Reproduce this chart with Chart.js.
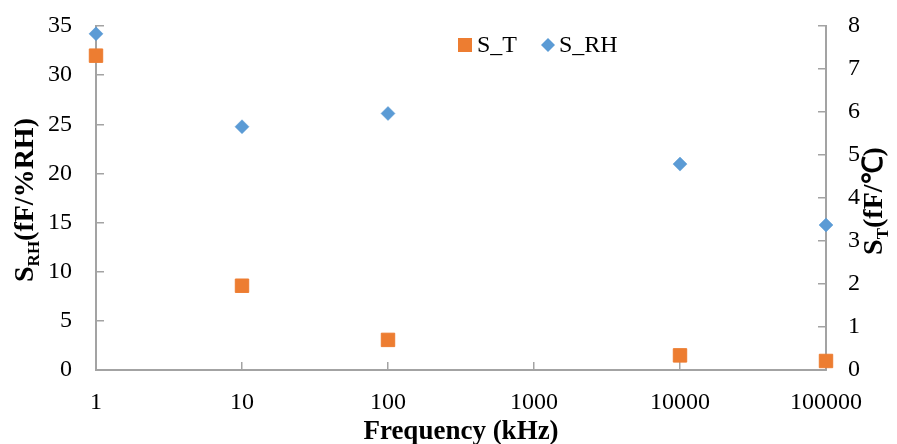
<!DOCTYPE html>
<html>
<head>
<meta charset="utf-8">
<script src="https://cdn.jsdelivr.net/npm/chart.js@4"></script>
<style>
  html, body { margin: 0; padding: 0; background: #fff; }
  #wrap { width: 897px; height: 444px; }
</style>
</head>
<body>
<div id="wrap"><canvas id="chart"></canvas></div>
<script>
// values
const frequencies = [1, 10, 100, 10000, 100000];
const sRH = [34.2, 24.75, 26.1, 20.95, 14.75];
const sT = [7.31, 1.96, 0.70, 0.34, 0.21];
const xTicks = [1, 10, 100, 1000, 10000, 100000];
const seriesNames = ["S_T", "S_RH"];

const serif = "'Liberation Serif', 'Times New Roman', serif";
const axisGray = "#a3a3a3";
const orange = "#ED7D31";
const blue = "#5B9BD5";

const toPoints = (ys) => frequencies.map((f, i) => ({ x: f, y: ys[i] }));

// draws "S" + subscript + rest, rotated -90deg around (x, y) centre
function drawRotTitle(ctx, x, y, main, sub, rest, size) {
  const bigFont = `bold ${size}px ${serif}`;
  const smallFont = `bold ${Math.round(size * 0.62)}px ${serif}`;
  ctx.font = bigFont;
  const w1 = ctx.measureText(main).width;
  const w3 = ctx.measureText(rest).width;
  ctx.font = smallFont;
  const w2 = ctx.measureText(sub).width;
  const total = w1 + w2 + w3;
  ctx.save();
  ctx.translate(x, y);
  ctx.rotate(-Math.PI / 2);
  ctx.textAlign = "left";
  ctx.textBaseline = "alphabetic";
  let px = -total / 2;
  ctx.font = bigFont;
  ctx.fillText(main, px, 0);
  px += w1;
  ctx.font = smallFont;
  ctx.fillText(sub, px, size * 0.2);
  px += w2;
  ctx.font = bigFont;
  ctx.fillText(rest, px, 0);
  ctx.restore();
}

const titlesPlugin = {
  id: "titles",
  afterDraw(chart) {
    const ctx = chart.ctx, area = chart.chartArea;
    ctx.save();
    ctx.fillStyle = "#000";
    ctx.font = `bold 27px ${serif}`;
    ctx.textAlign = "center";
    ctx.textBaseline = "alphabetic";
    ctx.fillText("Frequency (kHz)", (area.left + area.right) / 2, 439);
    drawRotTitle(ctx, 33, 200, "S", "RH", "(fF/%RH)", 28);
    drawRotTitle(ctx, 882, 201, "S", "T", "(fF/\u2103)", 28);

    // legend
    const ds = chart.data.datasets;
    ctx.font = `24px ${serif}`;
    ctx.textAlign = "left";
    ctx.textBaseline = "middle";
    ctx.fillStyle = ds[0].backgroundColor;
    ctx.fillRect(458, 38, 14, 14);
    ctx.fillStyle = "#000";
    ctx.fillText(ds[0].label, 477, 46);
    ctx.fillStyle = ds[1].backgroundColor;
    ctx.beginPath();
    ctx.moveTo(541, 45); ctx.lineTo(548, 38); ctx.lineTo(555, 45); ctx.lineTo(548, 52);
    ctx.closePath();
    ctx.fill();
    ctx.fillStyle = "#000";
    ctx.fillText(ds[1].label, 559, 46);
    ctx.restore();
  }
};

const tickFont = { family: serif, size: 24 };

// fixed box sizes; drop the label overflow padding chart.js adds
const fixWidth = (w) => (s) => { s.width = w; s.paddingTop = 0; s.paddingBottom = 0; };

new Chart(document.getElementById("chart"), {
  type: "scatter",
  data: {
    datasets: [
      {
        label: seriesNames[0],
        data: toPoints(sT),
        yAxisID: "y2",
        clip: false,
        pointStyle: "rect",
        pointRadius: 9.5,
        pointHoverRadius: 9.5,
        backgroundColor: orange,
        borderColor: orange,
        borderWidth: 1,
      },
      {
        label: seriesNames[1],
        data: toPoints(sRH),
        yAxisID: "y",
        clip: false,
        pointStyle: "rectRot",
        pointRadius: 7,
        pointHoverRadius: 7,
        backgroundColor: blue,
        borderColor: blue,
        borderWidth: 0.5,
      },
    ],
  },
  options: {
    responsive: true,
    maintainAspectRatio: false,
    animation: false,
    layout: { padding: { top: 26, left: 0, right: 0, bottom: 0 } },
    plugins: { legend: { display: false }, tooltip: { enabled: false } },
    scales: {
      x: {
        type: "logarithmic",
        min: 1,
        max: 100000,
        afterBuildTicks: (s) => { s.ticks = xTicks.map((v) => ({ value: v })); },
        afterFit: (s) => { s.height = 74; s.paddingLeft = 0; s.paddingRight = 0; },
        ticks: {
          autoSkip: false,
          maxRotation: 0,
          padding: 26,
          color: "#000",
          font: tickFont,
          callback: (v) => String(v),
        },
        grid: { drawOnChartArea: false, tickLength: -8, color: axisGray, lineWidth: 1.5 },
        border: { color: axisGray, width: 2 },
      },
      y: {
        position: "left",
        min: 0,
        max: 35,
        afterFit: fixWidth(96),
        ticks: { stepSize: 5, padding: 32, color: "#000", font: tickFont },
        grid: { drawOnChartArea: false, tickLength: -8, color: axisGray, lineWidth: 1.5 },
        border: { color: axisGray, width: 2 },
      },
      y2: {
        position: "right",
        min: 0,
        max: 8,
        afterFit: fixWidth(71),
        ticks: { stepSize: 1, padding: 30, color: "#000", font: tickFont },
        grid: { drawOnChartArea: false, tickLength: -8, color: axisGray, lineWidth: 1.5 },
        border: { color: axisGray, width: 2 },
      },
    },
  },
  plugins: [titlesPlugin],
});
</script>
</body>
</html>
